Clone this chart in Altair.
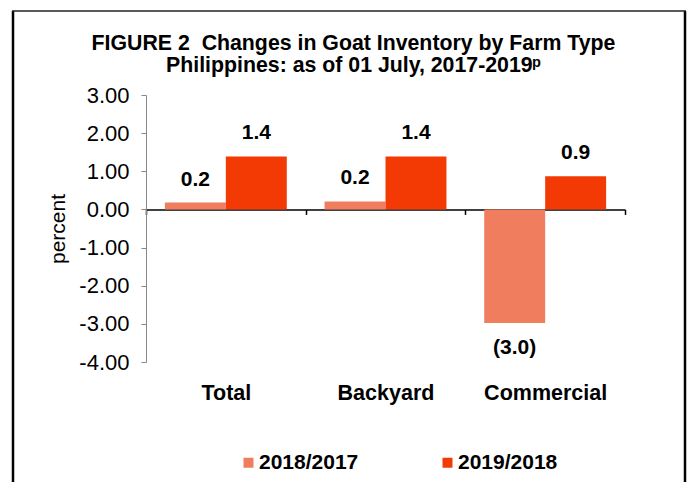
import altair as alt
import pandas as pd

categories = ["Total", "Backyard", "Commercial"]
series = ["2018/2017", "2019/2018"]
v_2018 = [0.18, 0.21, -2.98]
v_2019 = [1.39, 1.39, 0.87]
lab_2018 = ["0.2", "0.2", "(3.0)"]
lab_2019 = ["1.4", "1.4", "0.9"]
y_ticks = [-4, -3, -2, -1, 0, 1, 2, 3]
colors = ["#F07D5E", "#F33A05"]

rows = []
for i, c in enumerate(categories):
    rows.append({"cat": c, "series": series[0], "value": v_2018[i], "label": lab_2018[i]})
    rows.append({"cat": c, "series": series[1], "value": v_2019[i], "label": lab_2019[i]})
df = pd.DataFrame(rows)

W, H = 479, 267
YMIN, YMAX = -4, 3
FONT = "Liberation Sans"

yscale = alt.Scale(domain=[YMIN, YMAX], nice=False, zero=False)
xscale = alt.Scale(paddingInner=0, paddingOuter=0)
xoff_scale = alt.Scale(paddingInner=0, paddingOuter=0.31)

# the x axis line sits on the zero line; its labels are pushed down to the plot bottom
zero_offset = -H * (0 - YMIN) / (YMAX - YMIN)
x_axis = alt.Axis(domain=True, domainColor="black", domainWidth=1.5, ticks=True,
                  tickColor="black", tickSize=5, tickWidth=1.5, tickBand="extent",
                  offset=zero_offset, labelPadding=-zero_offset + 15,
                  labelAngle=0, labelFontSize=21.5, labelFontWeight="bold",
                  labelFont=FONT, labelColor="black", title=None, grid=False)

Y = alt.Y("value:Q", scale=yscale, title="percent")
X = alt.X("cat:N", sort=categories, scale=xscale, axis=x_axis)
XO = alt.XOffset("series:N", sort=series, scale=xoff_scale)
color = alt.Color("series:N", scale=alt.Scale(domain=series, range=colors),
                  legend=alt.Legend(orient="none", legendX=92, legendY=357,
                                    direction="horizontal", title=None,
                                    symbolType="square", symbolSize=100,
                                    symbolStrokeWidth=0, labelFont=FONT,
                                    labelFontSize=21, labelFontWeight="bold",
                                    labelColor="black", columnPadding=78,
                                    labelOffset=0))

base = alt.Chart(df)
bars = base.mark_bar().encode(x=X, xOffset=XO, y=Y, color=color)

txt_pos = base.transform_filter("datum.value >= 0").mark_text(
    font=FONT, fontSize=21, fontWeight="bold", baseline="middle", dy=-23, color="black"
).encode(x=X, xOffset=XO, y=Y, text="label:N")

txt_neg = base.transform_filter("datum.value < 0").mark_text(
    font=FONT, fontSize=21, fontWeight="bold", baseline="middle", dy=25, color="black"
).encode(x=X, xOffset=XO, y=Y, text="label:N")

one = alt.Chart(pd.DataFrame({"a": [0]}))
border_left = one.mark_rule(color="black", strokeWidth=2.5).encode(
    x=alt.value(-133), y=alt.value(-84), y2=alt.value(400))
border_right = one.mark_rule(color="black", strokeWidth=2.5).encode(
    x=alt.value(539), y=alt.value(-84), y2=alt.value(400))
border_top = one.mark_rule(color="#222", strokeWidth=1.5).encode(
    x=alt.value(-134), x2=alt.value(540), y=alt.value(-84))

chart = alt.layer(bars, txt_pos, txt_neg, border_left, border_right, border_top).properties(
    width=W, height=H,
    autosize=alt.AutoSizeParams(type="none"),
    padding={"left": 146, "top": 95, "right": 66, "bottom": 120},
    title=alt.Title(["FIGURE 2\u00a0\u00a0Changes in Goat Inventory by Farm Type",
                     "Philippines: as of 01 July, 2017-2019\u1d56"],
                    anchor="middle", frame="group", dx=-32, offset=-67,
                    font=FONT, fontSize=21.3, fontWeight="bold", color="black",
                    lineHeight=22)
).configure_view(stroke=None).configure_axisY(
    domainColor="#868686", tickColor="#868686", tickSize=5, grid=False,
    values=y_ticks,
    labelExpr="(datum.value < 0 ? '-' : '') + format(abs(datum.value), '.2f')",
    labelFont=FONT, labelFontSize=22, labelColor="black", labelPadding=12,
    titleFont=FONT, titleFontSize=21, titleFontWeight="normal", titleColor="black",
    titlePadding=10
)

chart.save("out.html", embed_options={"renderer": "svg", "actions": False})
